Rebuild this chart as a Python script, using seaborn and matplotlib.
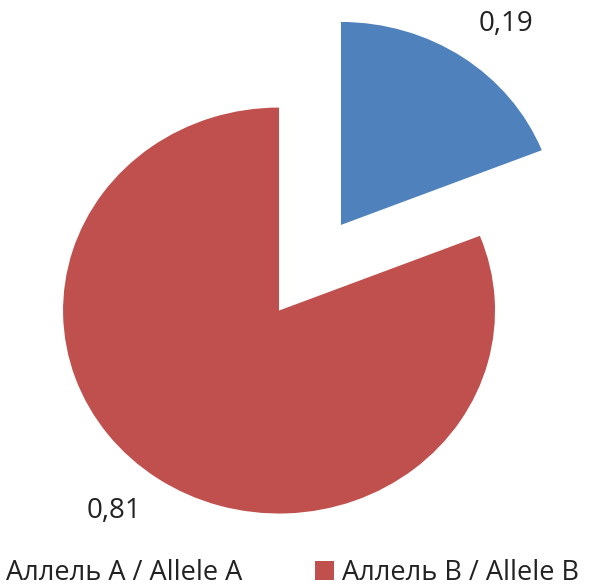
import numpy as np
import matplotlib
matplotlib.use("Agg")
import matplotlib.pyplot as plt
import seaborn as sns
from matplotlib.patches import Patch

sns.set_theme(style="white")
plt.rcParams["font.family"] = ["Open Sans", "DejaVu Sans"]

# Allele frequencies
categories = ["Аллель A / Allele A", "Аллель B / Allele B"]
frequencies = [0.19, 0.81]
value_labels = ["0,19", "0,81"]
colors = ["#4F81BD", "#C0504D"]
explode = [0.51, 0.0]

fig = plt.figure(figsize=(6.03, 5.88), dpi=100)
ax = fig.add_axes([0, 0, 1, 1])

wedges, _ = ax.pie(
    frequencies,
    colors=colors,
    explode=explode,
    startangle=90,
    counterclock=False,
    wedgeprops=dict(linewidth=0),
)

# value labels just outside each wedge
for w, lab in zip(wedges, value_labels):
    cx, cy = w.center
    ang = np.deg2rad((w.theta1 + w.theta2) / 2 - 3.5)
    ax.text(cx + 1.25 * np.cos(ang), cy + 1.25 * np.sin(ang), lab,
            ha="center", va="center", fontsize=20, color="#222222")

# slightly wider than tall, as in the original rendering
ax.set_aspect("auto")
ax.set_xlim(-1.292, 1.500)
ax.set_ylim(-1.367, 1.530)
ax.axis("off")

handles = [Patch(facecolor=c, edgecolor="none") for c in colors]
leg_y = (588 - 573) / 588
leg = fig.legend(
    handles,
    categories,
    loc="center left",
    bbox_to_anchor=(0, leg_y),
    ncol=2,
    frameon=False,
    fontsize=19.5,
    handlelength=0.67,
    handleheight=0.67,
    handletextpad=0.3,
    columnspacing=2.7,
    borderpad=0,
    borderaxespad=0,
)
for t in leg.get_texts():
    t.set_color("#222222")

# shift the legend so the first label text starts near the left edge
fig.canvas.draw()
r = fig.canvas.get_renderer()
x0 = leg.get_texts()[0].get_window_extent(r).x0
fig_w = fig.bbox.width
leg.set_bbox_to_anchor(((6 - x0) / fig_w, leg_y), transform=fig.transFigure)

fig.savefig("out.png", dpi=100)
